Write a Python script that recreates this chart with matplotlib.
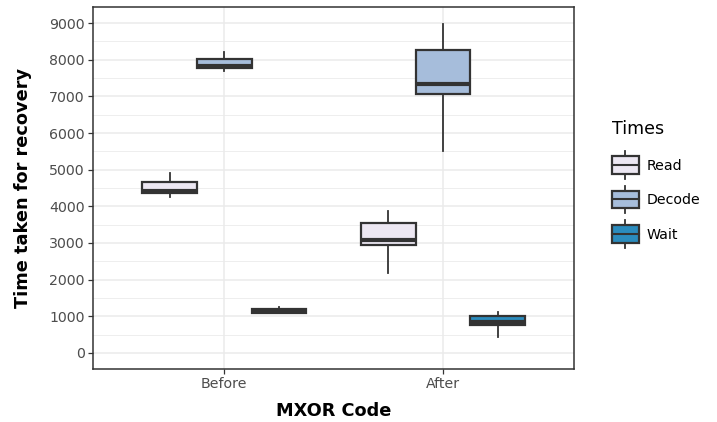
import numpy as np
import matplotlib
matplotlib.use("Agg")
import matplotlib.pyplot as plt
from matplotlib.legend_handler import HandlerBase
from matplotlib.patches import Rectangle
from matplotlib.lines import Line2D

# values
codes = ["Before", "After"]
times = ["Read", "Decode", "Wait"]
colours = ["#ece7f2", "#a6bddb", "#2b8cbe"]

# per (code, time): lower whisker, q1, median, q3, upper whisker
whislo = {"Read": [4246, 2173], "Decode": [7691, 5517], "Wait": [1100, 445]}
q1 = {"Read": [4355, 2945], "Decode": [7773, 7063], "Wait": [1099, 755]}
med = {"Read": [4418, 3082], "Decode": [7835, 7327], "Wait": [1150, 840]}
q3 = {"Read": [4664, 3554], "Decode": [8027, 8271], "Wait": [1208, 1009]}
whishi = {"Read": [4918, 3881], "Decode": [8217, 8972], "Wait": [1246, 1126]}

edge = "#333333"
grid = "#ebebeb"

fig = plt.figure(figsize=(7.17, 4.22), dpi=100)
ax = fig.add_axes([0.1297, 0.1256, 0.6709, 0.8578])

dodge = 0.25
for j, t in enumerate(times):
    stats = []
    for i in range(len(codes)):
        stats.append({"whislo": whislo[t][i], "q1": q1[t][i], "med": med[t][i],
                      "q3": q3[t][i], "whishi": whishi[t][i], "fliers": []})
    pos = np.arange(1, len(codes) + 1) + (j - 1) * dodge
    ax.bxp(stats, positions=pos, widths=dodge, patch_artist=True, showcaps=False,
           showfliers=False, manage_ticks=False, zorder=3,
           boxprops=dict(facecolor=colours[j], edgecolor=edge, linewidth=1.6),
           whiskerprops=dict(color=edge, linewidth=1.3),
           medianprops=dict(color=edge, linewidth=3, solid_capstyle="butt"))

ax.set_xlim(0.4, 2.6)
ax.set_ylim(-440, 9440)
ax.set_xticks([1, 2])
ax.set_xticklabels(codes)
ax.set_yticks(np.arange(0, 9001, 1000))
ax.set_yticks(np.arange(500, 9001, 1000), minor=True)
ax.grid(True, which="major", color=grid, linewidth=1.1, zorder=0)
ax.grid(True, which="minor", axis="y", color=grid, linewidth=0.6, zorder=0)
ax.set_axisbelow(True)
ax.tick_params(axis="both", which="major", colors=edge, labelcolor="#4d4d4d",
               labelsize=10.2, length=3.5, width=0.9, pad=2.5)
ax.tick_params(axis="y", which="minor", length=0)
for s in ax.spines.values():
    s.set_color(edge)
    s.set_linewidth(1.1)

ax.set_xlabel("MXOR Code", fontsize=12.8, fontweight="bold", labelpad=7.5)
ax.set_ylabel("Time taken for recovery", fontsize=12.8, fontweight="bold", labelpad=12)


class BoxHandler(HandlerBase):
    def create_artists(self, legend, orig, xd, yd, w, h, fs, trans):
        c = orig.get_facecolor()
        cx = xd + w / 2
        cy = yd + h / 2
        bh = fs * 1.25
        r = Rectangle((xd, cy - bh / 2), w, bh, facecolor=c, edgecolor=edge,
                      linewidth=1.6, transform=trans)
        m = Line2D([xd, xd + w], [cy, cy], color=edge, lw=1.5, transform=trans)
        up = Line2D([cx, cx], [cy + bh / 2, cy + bh / 2 + fs * 0.35], color=edge,
                    lw=1.3, transform=trans)
        dn = Line2D([cx, cx], [cy - bh / 2, cy - bh / 2 - fs * 0.35], color=edge,
                    lw=1.3, transform=trans)
        return [up, dn, r, m]


handles = [Rectangle((0, 0), 1, 1, facecolor=c) for c in colours]
leg = fig.legend(handles, times, title="Times", loc="upper left",
                 bbox_to_anchor=(0.853, 0.715), frameon=False, fontsize=10.2,
                 title_fontsize=12.5, handler_map={Rectangle: BoxHandler()},
                 handlelength=1.9, labelspacing=1.45, borderpad=0,
                 handletextpad=0.6, borderaxespad=0)
leg._legend_box.align = "left"

fig.savefig("out.png", dpi=100)
